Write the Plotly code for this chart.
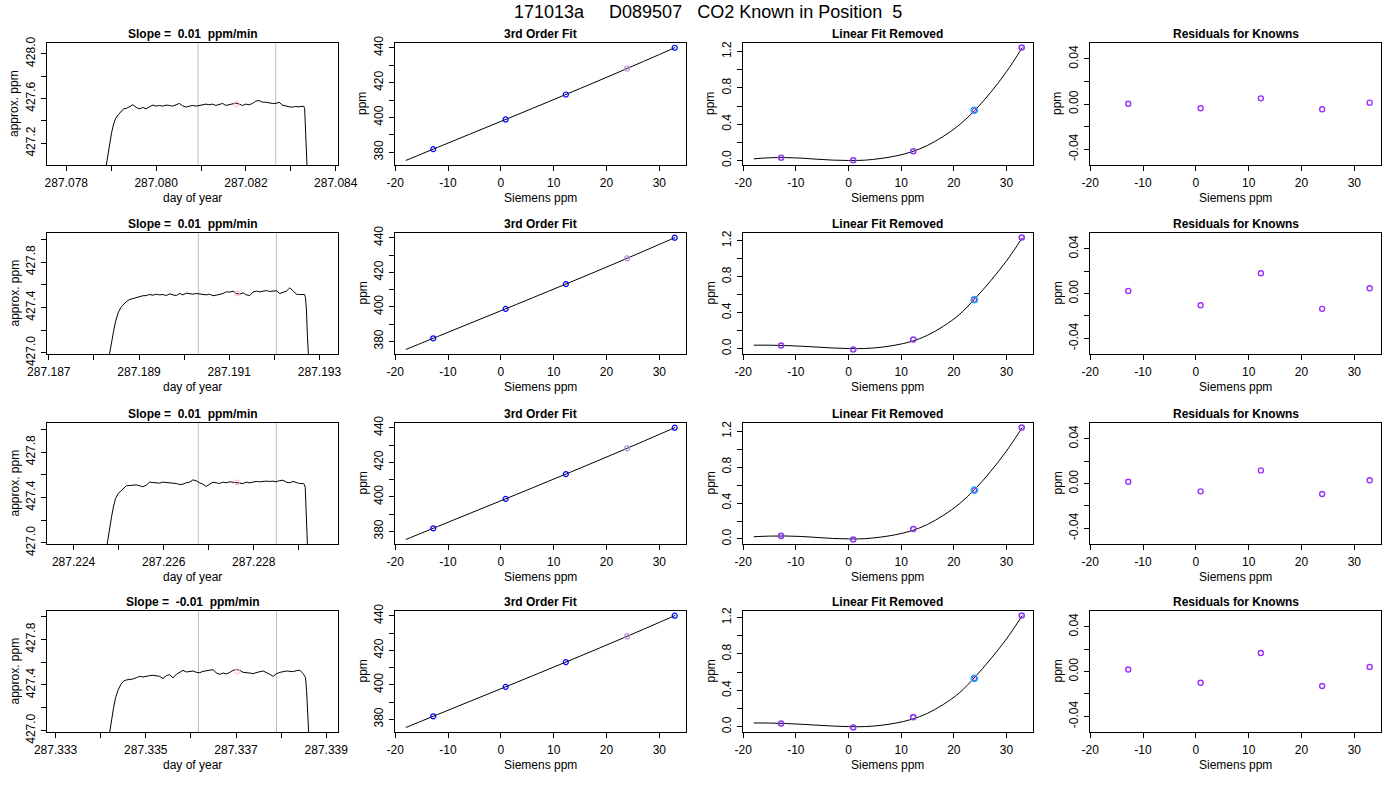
import plotly.graph_objects as go

# ---------------------------------------------------------------- data
# column 1: CO2 trace for each of the four runs (elapsed seconds from run start)
elapsed_s = [0.0, 3.8, 7.7, 11.5, 15.3, 19.2, 23.0, 28.1, 33.2, 38.4, 43.5,
             49.9, 56.3, 62.7, 69.1, 75.4, 81.8, 88.2, 94.6, 101.0, 107.4,
             113.8, 120.2, 126.6, 133.0, 139.4, 145.8, 152.2, 158.6, 165.0, 171.4,
             177.7, 184.1, 190.5, 196.9, 203.3, 209.7, 216.1, 222.5, 228.9, 235.3,
             241.7, 248.1, 254.5, 260.9, 267.3, 273.6, 280.0, 286.4, 292.8, 299.2,
             305.6, 312.0, 318.4, 324.8, 331.2, 337.6, 344.0, 350.4, 356.8, 363.2,
             369.5, 375.9, 382.3, 384.9, 386.8, 388.7, 390.6, 392.5, 394.5]

run_start_day = [287.078831, 287.188212, 287.224666, 287.334064]

co2_run1 = [426.859, 426.969, 427.081, 427.200, 427.295, 427.372, 427.422, 427.455, 427.484, 427.508, 427.511,
            427.526, 427.544, 427.520, 427.508, 427.520, 427.508, 427.526, 427.541, 427.532, 427.538,
            427.532, 427.541, 427.538, 427.532, 427.544, 427.556, 427.535, 427.523, 427.532, 427.538,
            427.532, 427.538, 427.538, 427.550, 427.544, 427.550, 427.538, 427.547, 427.556, 427.538,
            427.544, 427.550, 427.559, 427.550, 427.538, 427.550, 427.544, 427.556, 427.576, 427.582,
            427.567, 427.567, 427.561, 427.556, 427.556, 427.567, 427.541, 427.532, 427.526, 427.523,
            427.529, 427.526, 427.535,
            427.532, 427.511, 427.289, 427.022, 426.815, 426.637]
co2_run2 = [426.732, 426.791, 426.878, 426.990, 427.098, 427.186, 427.274, 427.353, 427.400, 427.429, 427.450,
            427.470, 427.479, 427.488, 427.494, 427.503, 427.505, 427.514, 427.508, 427.517, 427.511,
            427.514, 427.505, 427.520, 427.511, 427.505, 427.523, 427.511, 427.526, 427.523, 427.517,
            427.523, 427.520, 427.517, 427.511, 427.517, 427.503, 427.508, 427.514, 427.523, 427.538,
            427.535, 427.544, 427.523, 427.517, 427.529, 427.511, 427.505, 427.535, 427.544, 427.538,
            427.544, 427.549, 427.541, 427.541, 427.547, 427.523, 427.532, 427.544, 427.573, 427.544,
            427.517, 427.514, 427.517,
            427.514, 427.488, 427.377, 427.142, 426.966, 426.820]
co2_run3 = [426.791, 426.908, 427.025, 427.128, 427.230, 427.324, 427.391, 427.435, 427.459, 427.485, 427.503,
            427.505, 427.505, 427.511, 427.503, 427.494, 427.508, 427.535, 427.532, 427.529, 427.526,
            427.535, 427.532, 427.535, 427.529, 427.523, 427.514, 427.517, 427.529, 427.535, 427.555,
            427.547, 427.529, 427.517, 427.497, 427.520, 427.535, 427.529, 427.523, 427.535, 427.529,
            427.538, 427.535, 427.526, 427.529, 427.523, 427.535, 427.529, 427.535, 427.541, 427.538,
            427.544, 427.544, 427.541, 427.544, 427.538, 427.549, 427.552, 427.535, 427.529, 427.541,
            427.532, 427.523, 427.523,
            427.517, 427.488, 427.259, 426.966, 426.732, 426.556]
co2_run4 = [426.650, 426.767, 426.855, 426.972, 427.084, 427.201, 427.289, 427.359, 427.406, 427.435, 427.444,
            427.447, 427.453, 427.464, 427.476, 427.470, 427.479, 427.482, 427.485, 427.479, 427.476,
            427.456, 427.482, 427.491, 427.462, 427.494, 427.511, 427.529, 427.514, 427.517, 427.523,
            427.511, 427.508, 427.520, 427.523, 427.529, 427.535, 427.505, 427.494, 427.505, 427.497,
            427.511, 427.529, 427.535, 427.529, 427.511, 427.511, 427.505, 427.500, 427.511, 427.517,
            427.523, 427.511, 427.494, 427.476, 427.500, 427.511, 427.517, 427.523, 427.520, 427.517,
            427.526, 427.529, 427.500,
            427.482, 427.464, 427.353, 427.148, 426.972, 426.826]
co2_runs = [co2_run1, co2_run2, co2_run3, co2_run4]

window_start_day = [287.080933, 287.190314, 287.226768, 287.336166]
window_end_day = [287.082664, 287.192045, 287.228499, 287.337897]
window_mid_day = [287.081795, 287.191176, 287.227630, 287.337028]
window_mean_ppm = [427.550, 427.523, 427.532, 427.520]
slope_ppm_min = ["0.01", "0.01", "0.01", "-0.01"]

day_ticks = [[287.078, 287.079, 287.080, 287.081, 287.082, 287.083, 287.084],
             [287.187, 287.188, 287.189, 287.190, 287.191, 287.192, 287.193],
             [287.224, 287.225, 287.226, 287.227, 287.228, 287.229],
             [287.333, 287.334, 287.335, 287.336, 287.337, 287.338, 287.339]]
day_tick_labels = [["287.078", "", "287.080", "", "287.082", "", "287.084"],
                   ["287.187", "", "287.189", "", "287.191", "", "287.193"],
                   ["287.224", "", "287.226", "", "287.228", ""],
                   ["287.333", "", "287.335", "", "287.337", "", "287.339"]]
day_ranges = [[287.07757, 287.08405], [287.18696, 287.19341],
              [287.22341, 287.22987], [287.33281, 287.33926]]
ppm_ranges = [[427.007, 428.095], [426.990, 428.056], [426.990, 428.056], [426.987, 428.050]]
ppm_ticks = [[427.2, 427.4, 427.6, 427.8, 428.0],
             [427.0, 427.2, 427.4, 427.6, 427.8, 428.0],
             [427.0, 427.2, 427.4, 427.6, 427.8, 428.0],
             [427.0, 427.2, 427.4, 427.6, 427.8, 428.0]]
ppm_tick_labels = [["427.2", "", "427.6", "", "428.0"],
                   ["427.0", "", "427.4", "", "427.8", ""],
                   ["427.0", "", "427.4", "", "427.8", ""],
                   ["427.0", "", "427.4", "", "427.8", ""]]

# columns 2-4: calibration with the known standards
siemens_ppm = [-12.8, 0.9, 12.3, 23.9, 32.9]
known_ppm = [381.74, 398.82, 413.16, 428.10, 440.03]
fit_x = [-18, -15, -12, -9, -6, -3, 0, 3, 6, 9, 12, 15, 18, 21, 24, 27, 30, 33]
fit_ppm = [375.24, 379.00, 382.74, 386.49, 390.23, 393.96, 397.70, 401.45, 405.21,
           408.99, 412.79, 416.60, 420.44, 424.31, 428.23, 432.18, 436.15, 440.16]

linear_removed_pts = [[0.030, 0.002, 0.102, 0.552, 1.244],
                      [0.036, -0.008, 0.104, 0.545, 1.236],
                      [0.034, -0.006, 0.111, 0.543, 1.240],
                      [0.036, -0.008, 0.106, 0.532, 1.223]]
linear_removed_curve = [
    [0.018, 0.030, 0.032, 0.026, 0.014, 0.004, 0.000, 0.003, 0.021, 0.050, 0.095, 0.166, 0.265, 0.390, 0.552, 0.750, 0.977, 1.244],
    [0.040, 0.040, 0.036, 0.029, 0.019, 0.009, 0.003, 0.003, 0.016, 0.042, 0.082, 0.150, 0.250, 0.378, 0.556, 0.755, 0.975, 1.232],
    [0.025, 0.032, 0.033, 0.028, 0.017, 0.006, 0.001, 0.003, 0.020, 0.048, 0.092, 0.162, 0.262, 0.388, 0.552, 0.752, 0.978, 1.240],
    [0.042, 0.041, 0.036, 0.028, 0.018, 0.008, 0.002, 0.002, 0.015, 0.041, 0.082, 0.148, 0.245, 0.370, 0.545, 0.745, 0.965, 1.222]]
residuals = [[0.0002, -0.0037, 0.0050, -0.0047, 0.0012],
             [0.0023, -0.0105, 0.0181, -0.0137, 0.0047],
             [0.0015, -0.0070, 0.0117, -0.0094, 0.0029],
             [0.0018, -0.0100, 0.0165, -0.0129, 0.0041]]

siemens_ticks = [-20, -10, 0, 10, 20, 30]
fit_ppm_ticks = [380, 390, 400, 410, 420, 430, 440]
fit_ppm_labels = ["380", "", "400", "", "420", "", "440"]
lin_ticks = [0.0, 0.2, 0.4, 0.6, 0.8, 1.0, 1.2]
lin_labels = ["0.0", "", "0.4", "", "0.8", "", "1.2"]
res_ticks = [-0.04, -0.02, 0.0, 0.02, 0.04]
res_labels = ["-0.04", "", "0.00", "", "0.04"]

main_title = "171013a\u00a0\u00a0\u00a0\u00a0\u00a0D089507\u00a0\u00a0\u00a0CO2 Known in Position\u00a0\u00a05"

# ---------------------------------------------------------------- layout geometry (pixels)
W, H = 1400, 800
COL_X = [(47, 338), (395, 686), (743, 1033), (1090, 1381)]
ROW_Y = [(43, 165), (233, 354), (423, 544), (611, 732)]
FONT = "Liberation Sans, Arial, Helvetica, sans-serif"
BLUE = "#0000FF"
PLUM = "#B58EDB"
VIOLET = "#8E3CF0"
CYAN = "#19B8F5"
RES_VIOLET = "#9B30FF"
PINK = "#FFB3C1"


def px_x(p):
    return p / W


def px_y(p):
    return 1 - p / H


def pad_range(values, frac=0.04):
    lo, hi = min(values), max(values)
    span = hi - lo
    return [lo - frac * span, hi + frac * span]


fig = go.Figure()
layout = dict(width=W, height=H, autosize=False,
              margin=dict(l=0, r=0, t=0, b=0, pad=0, autoexpand=False),
              paper_bgcolor="white", plot_bgcolor="white", showlegend=False,
              template="none",
              font=dict(family=FONT, size=12, color="black"))
annotations = []
shapes = []


def base_axis():
    return dict(showgrid=False, zeroline=False, showline=True, linecolor="black",
                linewidth=1, mirror=True, ticks="outside", ticklen=5, tickwidth=1,
                tickcolor="black", tickfont=dict(family=FONT, size=12, color="black"),
                tickmode="array", fixedrange=True, automargin=False)


x_lim_cal = pad_range(fit_x)

for r in range(4):
    for c in range(4):
        k = 4 * r + c + 1
        xa = "x" if k == 1 else f"x{k}"
        ya = "y" if k == 1 else f"y{k}"
        xkey = "xaxis" if k == 1 else f"xaxis{k}"
        ykey = "yaxis" if k == 1 else f"yaxis{k}"
        x0, x1 = COL_X[c]
        y0, y1 = ROW_Y[r]
        xax = base_axis()
        yax = base_axis()
        xax.update(domain=[px_x(x0), px_x(x1)], anchor=ya, tickangle=0, ticklabelstandoff=2)
        yax.update(domain=[px_y(y1), px_y(y0)], anchor=xa, tickangle=-90, ticklabelstandoff=1)

        if c == 0:
            days = [run_start_day[r] + s / 86400.0 for s in elapsed_s]
            fig.add_trace(go.Scatter(x=days, y=co2_runs[r], mode="lines",
                                     line=dict(color="black", width=1),
                                     xaxis=xa, yaxis=ya, hoverinfo="skip"))
            fig.add_trace(go.Scatter(x=[window_mid_day[r]], y=[window_mean_ppm[r]], mode="markers",
                                     marker=dict(symbol="circle-open", size=5, color=PINK,
                                                 line=dict(color=PINK, width=1)),
                                     xaxis=xa, yaxis=ya, hoverinfo="skip"))
            for xv in (window_start_day[r], window_end_day[r]):
                shapes.append(dict(type="line", xref=xa, yref=f"{ya} domain",
                                   x0=xv, x1=xv, y0=0, y1=1, layer="below",
                                   line=dict(color="#BEBEBE", width=1)))
            xax.update(range=day_ranges[r], tickvals=day_ticks[r], ticktext=day_tick_labels[r])
            yax.update(range=ppm_ranges[r], tickvals=ppm_ticks[r], ticktext=ppm_tick_labels[r])
            title = f"Slope =\u00a0\u00a0{slope_ppm_min[r]}\u00a0\u00a0ppm/min"
            xtitle, ytitle = "day of year", "approx. ppm"
        elif c == 1:
            cols = [BLUE, BLUE, BLUE, PLUM, BLUE]
            fig.add_trace(go.Scatter(x=fit_x, y=fit_ppm, mode="lines",
                                     line=dict(color="black", width=1, shape="spline"),
                                     xaxis=xa, yaxis=ya, hoverinfo="skip"))
            fig.add_trace(go.Scatter(x=siemens_ppm, y=known_ppm, mode="markers",
                                     marker=dict(symbol="circle-open", size=5, color=cols,
                                                 line=dict(color=cols, width=1.2)),
                                     xaxis=xa, yaxis=ya, hoverinfo="skip"))
            xax.update(range=x_lim_cal, tickvals=siemens_ticks, ticktext=[str(v) for v in siemens_ticks])
            yax.update(range=pad_range(fit_ppm + known_ppm), tickvals=fit_ppm_ticks, ticktext=fit_ppm_labels)
            title = "3rd Order Fit"
            xtitle, ytitle = "Siemens ppm", "ppm"
        elif c == 2:
            fig.add_trace(go.Scatter(x=fit_x, y=linear_removed_curve[r], mode="lines",
                                     line=dict(color="black", width=1, shape="spline"),
                                     xaxis=xa, yaxis=ya, hoverinfo="skip"))
            fig.add_trace(go.Scatter(x=siemens_ppm, y=linear_removed_pts[r], mode="markers",
                                     marker=dict(symbol="circle-open", size=5, color=VIOLET,
                                                 line=dict(color=VIOLET, width=1.6)),
                                     xaxis=xa, yaxis=ya, hoverinfo="skip"))
            fig.add_trace(go.Scatter(x=[siemens_ppm[3]], y=[linear_removed_pts[r][3]], mode="markers",
                                     marker=dict(symbol="circle-open", size=6.5, color=CYAN,
                                                 line=dict(color=CYAN, width=1.3)),
                                     xaxis=xa, yaxis=ya, hoverinfo="skip"))
            xax.update(range=x_lim_cal, tickvals=siemens_ticks, ticktext=[str(v) for v in siemens_ticks])
            yax.update(range=pad_range(linear_removed_curve[r] + linear_removed_pts[r]),
                       tickvals=lin_ticks, ticktext=lin_labels)
            title = "Linear Fit Removed"
            xtitle, ytitle = "Siemens ppm", "ppm"
        else:
            fig.add_trace(go.Scatter(x=siemens_ppm, y=residuals[r], mode="markers",
                                     marker=dict(symbol="circle-open", size=5, color=RES_VIOLET,
                                                 line=dict(color=RES_VIOLET, width=1.4)),
                                     xaxis=xa, yaxis=ya, hoverinfo="skip"))
            xax.update(range=x_lim_cal, tickvals=siemens_ticks, ticktext=[str(v) for v in siemens_ticks])
            yax.update(range=[-0.054, 0.054], tickvals=res_ticks, ticktext=res_labels)
            title = "Residuals for Knowns"
            xtitle, ytitle = "Siemens ppm", "ppm"

        layout[xkey] = xax
        layout[ykey] = yax
        cx = (x0 + x1) / 2
        cy = (y0 + y1) / 2
        annotations.append(dict(text=f"<b>{title}</b>", xref="paper", yref="paper",
                                x=px_x(cx), y=px_y(y0 - 9), xanchor="center", yanchor="middle",
                                showarrow=False, font=dict(family=FONT, size=12, color="black")))
        annotations.append(dict(text=xtitle, xref="paper", yref="paper",
                                x=px_x(cx), y=px_y(y1 + 33), xanchor="center", yanchor="middle",
                                showarrow=False, font=dict(family=FONT, size=12, color="black")))
        annotations.append(dict(text=ytitle, xref="paper", yref="paper", textangle=-90,
                                x=px_x(x0 - 33), y=px_y(cy), xanchor="center", yanchor="middle",
                                showarrow=False, font=dict(family=FONT, size=12, color="black")))

annotations.append(dict(text=main_title, xref="paper", yref="paper",
                        x=px_x(708), y=px_y(12), xanchor="center", yanchor="middle",
                        showarrow=False, font=dict(family=FONT, size=18, color="black")))

layout["annotations"] = annotations
layout["shapes"] = shapes
fig.update_layout(**layout)
fig.write_html("out.html", config={"displayModeBar": False},
               post_script="document.body.style.margin='0px';document.body.style.padding='0px';")
